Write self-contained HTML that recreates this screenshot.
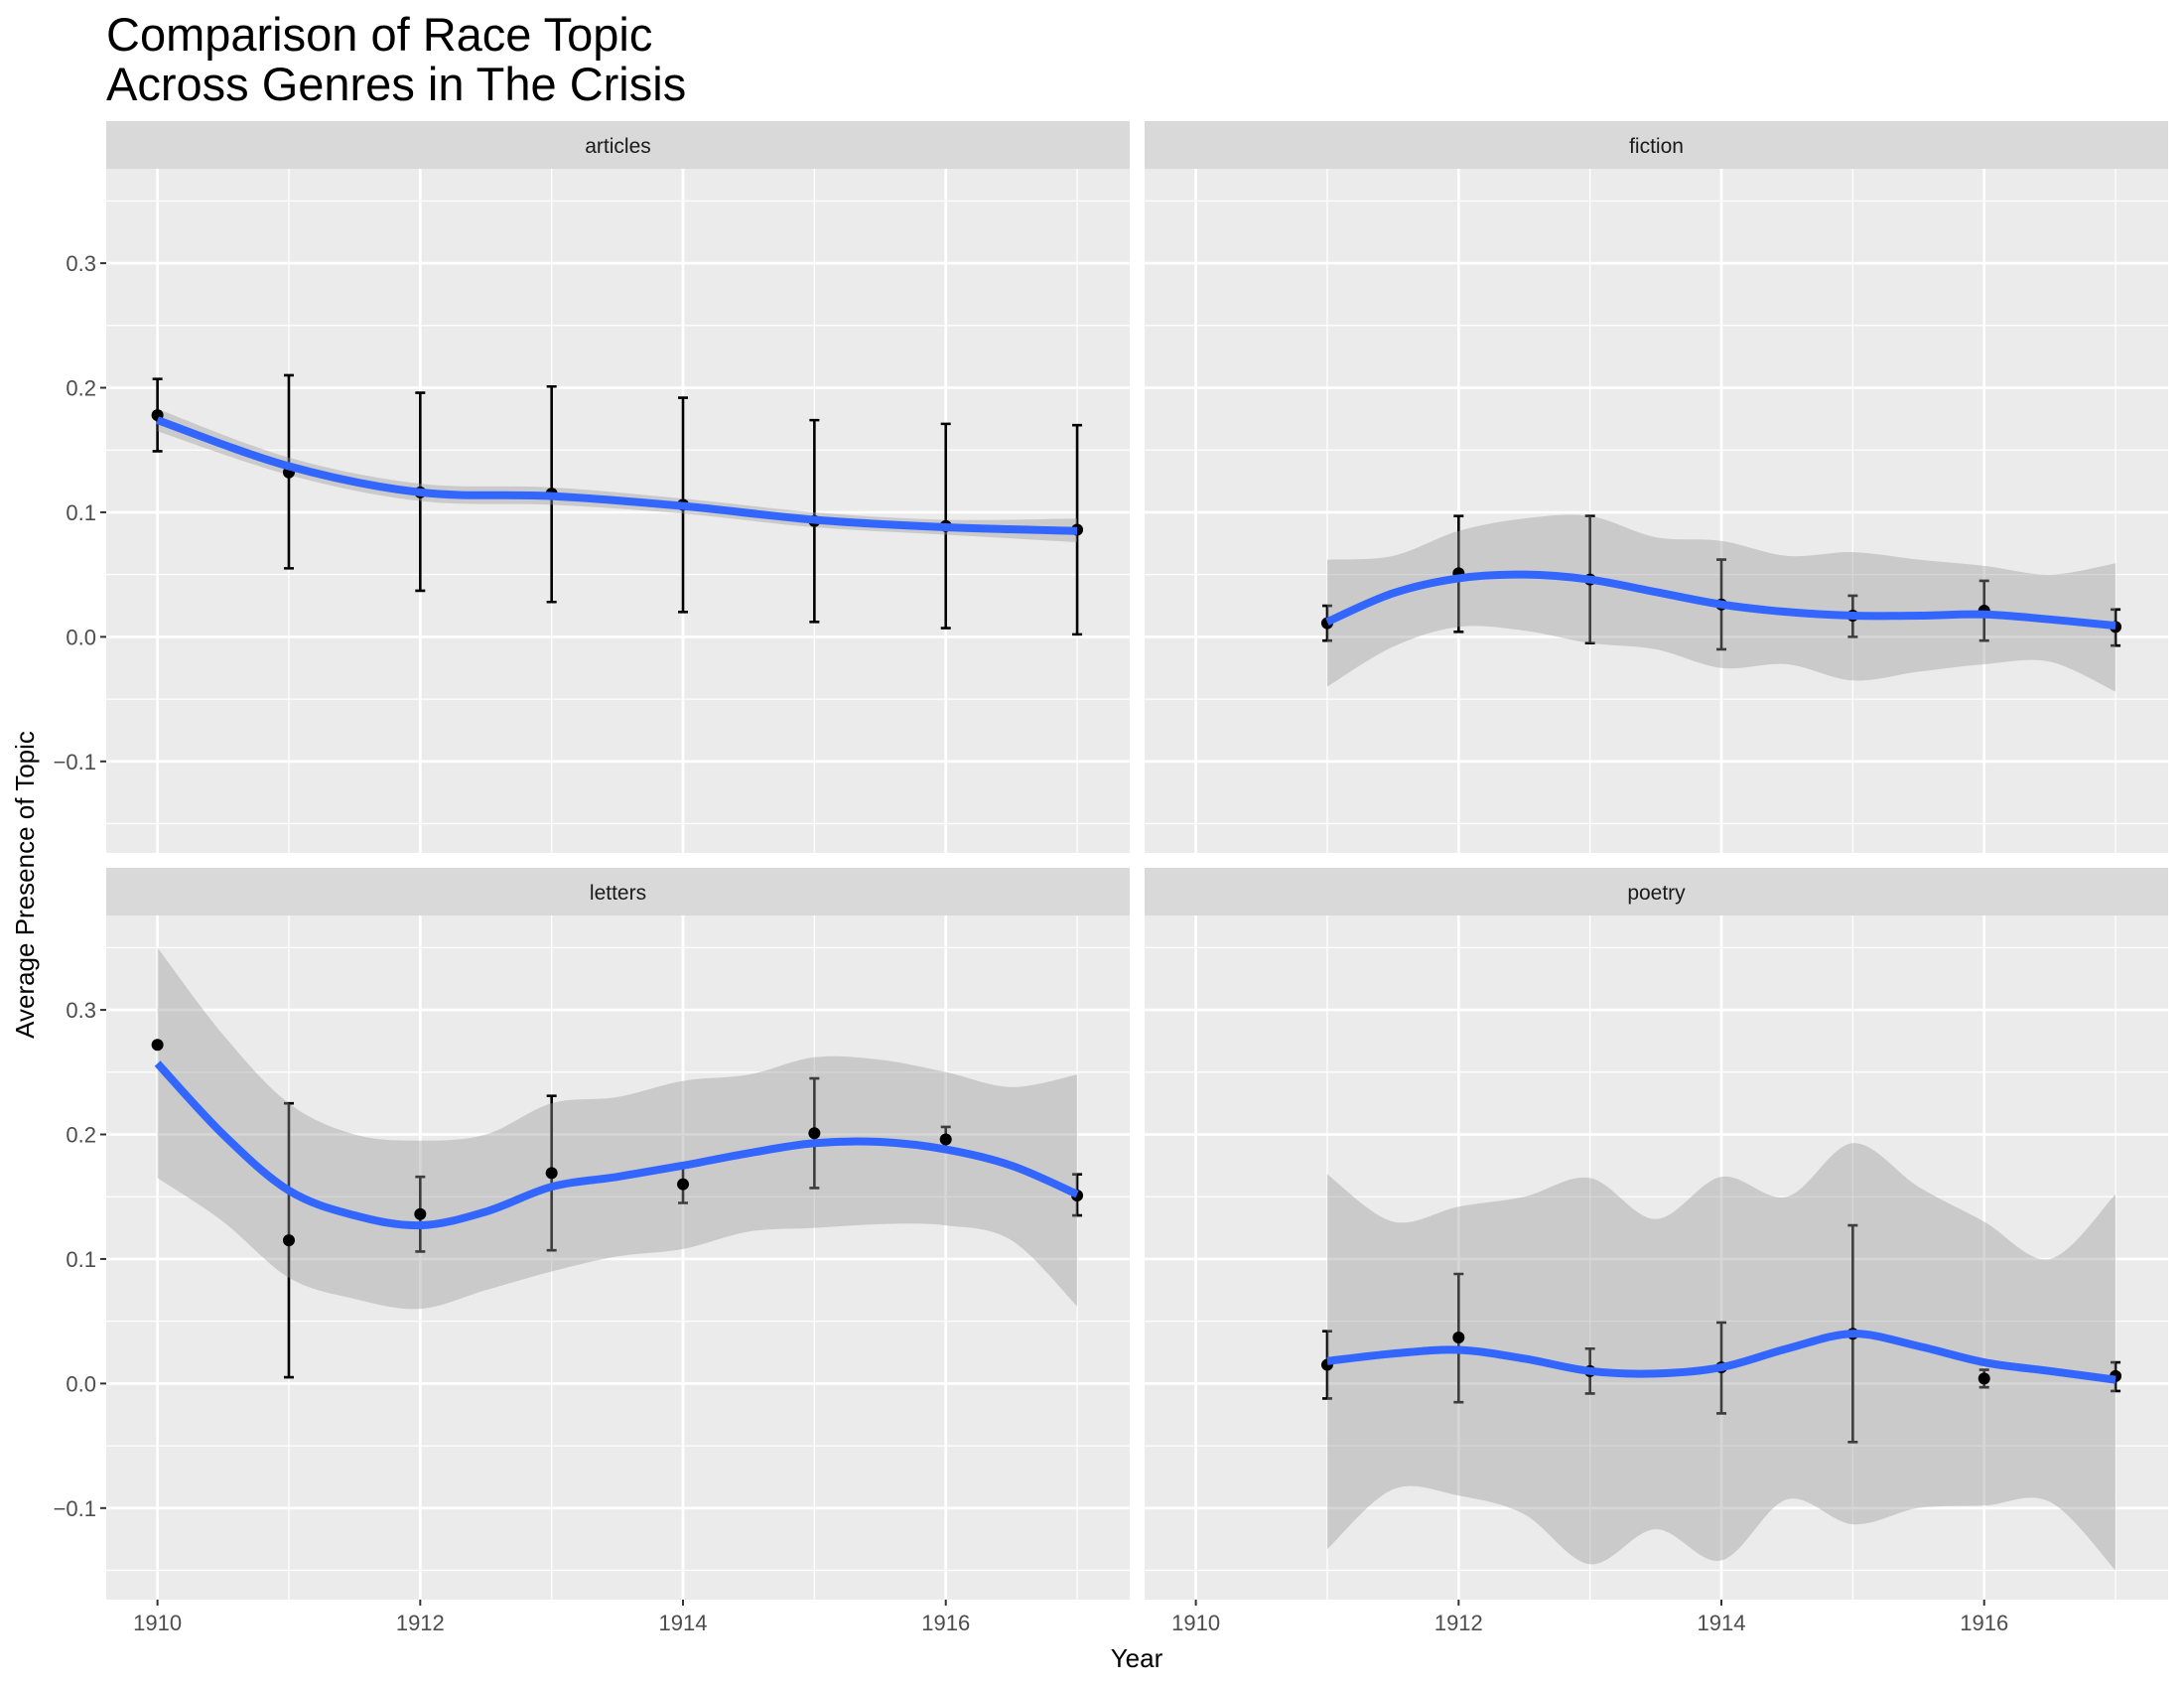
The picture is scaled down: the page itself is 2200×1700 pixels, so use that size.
<!DOCTYPE html>
<html><head><meta charset="utf-8"><style>
html,body{margin:0;padding:0;background:#fff;}
svg{display:block;font-family:"Liberation Sans",Arial,sans-serif;}
</style></head><body>
<svg id="chart" width="2200" height="1700" viewBox="0 0 2200 1700" xmlns="http://www.w3.org/2000/svg">
<text x="107" y="51" font-size="47" fill="#000">Comparison of Race Topic</text>
<text x="107" y="101" font-size="47" fill="#000">Across Genres in The Crisis</text>
<text x="1145" y="1679" font-size="26" text-anchor="middle" fill="#000">Year</text>
<text transform="translate(34,891) rotate(-90)" font-size="26" text-anchor="middle" fill="#000">Average Presence of Topic</text>
<g id="panels"></g>
</svg>
<script>
const genres = ["articles","fiction","letters","poetry"];
const yTicks = [-0.1,0.0,0.1,0.2,0.3];
const yTickLabels = ["\u22120.1","0.0","0.1","0.2","0.3"];
const xTicks = [1910,1912,1914,1916];
const xTickLabels = ["1910","1912","1914","1916"];

const articlesYears = [1910,1911,1912,1913,1914,1915,1916,1917];
const articlesMean = [0.178,0.132,0.116,0.115,0.106,0.093,0.089,0.086];
const articlesLo = [0.149,0.055,0.037,0.028,0.020,0.012,0.007,0.002];
const articlesHi = [0.207,0.210,0.196,0.201,0.192,0.174,0.171,0.170];
const articlesSmoothX = [1910,1911,1912,1913,1914,1915,1916,1917];
const articlesSmooth = [0.174,0.137,0.116,0.113,0.105,0.094,0.088,0.085];
const articlesBandHi = [0.183,0.144,0.123,0.120,0.111,0.100,0.094,0.095];
const articlesBandLo = [0.165,0.130,0.109,0.106,0.099,0.088,0.082,0.076];

const fictionYears = [1911,1912,1913,1914,1915,1916,1917];
const fictionMean = [0.011,0.051,0.046,0.026,0.017,0.021,0.008];
const fictionLo = [-0.003,0.004,-0.005,-0.010,0.000,-0.003,-0.007];
const fictionHi = [0.025,0.097,0.097,0.062,0.033,0.045,0.022];
const fictionSmoothX = [1911,1911.5,1912,1912.5,1913,1913.5,1914,1914.5,1915,1915.5,1916,1916.5,1917];
const fictionSmooth = [0.012,0.035,0.047,0.050,0.046,0.036,0.026,0.020,0.017,0.017,0.018,0.014,0.009];
const fictionBandHi = [0.062,0.065,0.085,0.095,0.097,0.080,0.077,0.065,0.068,0.062,0.057,0.050,0.059];
const fictionBandLo = [-0.040,-0.008,0.008,0.005,-0.005,-0.010,-0.025,-0.022,-0.035,-0.028,-0.022,-0.020,-0.044];

const lettersYears = [1910,1911,1912,1913,1914,1915,1916,1917];
const lettersMean = [0.272,0.115,0.136,0.169,0.160,0.201,0.196,0.151];
const lettersLo = [0.272,0.005,0.106,0.107,0.145,0.157,0.187,0.135];
const lettersHi = [0.272,0.225,0.166,0.231,0.175,0.245,0.206,0.168];
const lettersSmoothX = [1910,1910.5,1911,1911.5,1912,1912.5,1913,1913.5,1914,1914.5,1915,1915.5,1916,1916.5,1917];
const lettersSmooth = [0.257,0.200,0.155,0.135,0.127,0.138,0.158,0.166,0.175,0.185,0.193,0.194,0.188,0.175,0.152];
const lettersBandHi = [0.350,0.280,0.225,0.200,0.195,0.200,0.225,0.230,0.243,0.248,0.262,0.260,0.250,0.238,0.248];
const lettersBandLo = [0.165,0.130,0.085,0.068,0.060,0.075,0.090,0.102,0.108,0.122,0.125,0.128,0.127,0.115,0.062];

const poetryYears = [1911,1912,1913,1914,1915,1916,1917];
const poetryMean = [0.015,0.037,0.010,0.013,0.040,0.004,0.006];
const poetryLo = [-0.012,-0.015,-0.008,-0.024,-0.047,-0.003,-0.006];
const poetryHi = [0.042,0.088,0.028,0.049,0.127,0.011,0.017];
const poetrySmoothX = [1911,1911.5,1912,1912.5,1913,1913.5,1914,1914.5,1915,1915.5,1916,1916.5,1917];
const poetrySmooth = [0.018,0.024,0.027,0.020,0.010,0.008,0.013,0.028,0.040,0.030,0.017,0.010,0.003];
const poetryBandHi = [0.168,0.130,0.142,0.150,0.165,0.132,0.166,0.150,0.193,0.158,0.130,0.100,0.152];
const poetryBandLo = [-0.133,-0.085,-0.090,-0.105,-0.145,-0.117,-0.142,-0.093,-0.113,-0.100,-0.098,-0.095,-0.150];

const series = {
  articles:{years:articlesYears,mean:articlesMean,lo:articlesLo,hi:articlesHi,sx:articlesSmoothX,s:articlesSmooth,bh:articlesBandHi,bl:articlesBandLo},
  fiction:{years:fictionYears,mean:fictionMean,lo:fictionLo,hi:fictionHi,sx:fictionSmoothX,s:fictionSmooth,bh:fictionBandHi,bl:fictionBandLo},
  letters:{years:lettersYears,mean:lettersMean,lo:lettersLo,hi:lettersHi,sx:lettersSmoothX,s:lettersSmooth,bh:lettersBandHi,bl:lettersBandLo},
  poetry:{years:poetryYears,mean:poetryMean,lo:poetryLo,hi:poetryHi,sx:poetrySmoothX,s:poetrySmooth,bh:poetryBandHi,bl:poetryBandLo}
};

const NS="http://www.w3.org/2000/svg";
const root=document.getElementById('panels');
const PX=[[107,1138],[1153,2184]];
const PY=[[170,859],[922,1611]];
const YMIN=-0.1735, YMAX=0.3758, XMIN=1909.61, XMAX=1917.40;
function mk(tag,attrs,parent){const e=document.createElementNS(NS,tag);for(const k in attrs)e.setAttribute(k,attrs[k]);(parent||root).appendChild(e);return e;}
function smoothPath(pts){
  let d="M"+pts[0][0]+","+pts[0][1];
  for(let i=0;i<pts.length-1;i++){
    const p0=pts[Math.max(0,i-1)],p1=pts[i],p2=pts[i+1],p3=pts[Math.min(pts.length-1,i+2)];
    const c1=[p1[0]+(p2[0]-p0[0])/6,p1[1]+(p2[1]-p0[1])/6];
    const c2=[p2[0]-(p3[0]-p1[0])/6,p2[1]-(p3[1]-p1[1])/6];
    d+=" C"+c1[0]+","+c1[1]+" "+c2[0]+","+c2[1]+" "+p2[0]+","+p2[1];
  }
  return d;
}
genres.forEach((g,gi)=>{
  const col=gi%2,row=Math.floor(gi/2);
  const [x0,x1]=PX[col],[y0,y1]=PY[row];
  const sx=v=>x0+(v-XMIN)/(XMAX-XMIN)*(x1-x0);
  const sy=v=>y1-(v-YMIN)/(YMAX-YMIN)*(y1-y0);
  const grp=mk('g',{});
  
  
  const strip=mk('rect',{x:x0,y:y0-48,width:x1-x0,height:48,fill:'#d9d9d9'},grp);
  
  
  const st=mk('text',{x:(x0+x1)/2,y:y0-16,'font-size':21,'text-anchor':'middle',fill:'#1a1a1a'},grp);
  st.textContent=g;
  
  
  const bg=mk('rect',{x:x0,y:y0,width:x1-x0,height:y1-y0,fill:'#ebebeb'},grp);
  
  
  for(let i=0;i<yTicks.length-1;i++){const v=(yTicks[i]+yTicks[i+1])/2;mk('line',{x1:x0,x2:x1,y1:sy(v),y2:sy(v),stroke:'#fff','stroke-width':1.3},grp);}
  [yTicks[0]-0.05,yTicks[yTicks.length-1]+0.05].forEach(v=>{if(v>YMIN&&v<YMAX)mk('line',{x1:x0,x2:x1,y1:sy(v),y2:sy(v),stroke:'#fff','stroke-width':1.3},grp);});
  for(let i=0;i<xTicks.length;i++){const v=xTicks[i]+1;mk('line',{x1:sx(v),x2:sx(v),y1:y0,y2:y1,stroke:'#fff','stroke-width':1.3},grp);}
  yTicks.forEach(v=>mk('line',{x1:x0,x2:x1,y1:sy(v),y2:sy(v),stroke:'#fff','stroke-width':2.7},grp));
  xTicks.forEach(v=>mk('line',{x1:sx(v),x2:sx(v),y1:y0,y2:y1,stroke:'#fff','stroke-width':2.7},grp));
  if(col===0){yTicks.forEach((v,i)=>{
    mk('line',{x1:x0-6,x2:x0,y1:sy(v),y2:sy(v),stroke:'#333','stroke-width':2},grp);
    const t=mk('text',{x:x0-10,y:sy(v)+8,'font-size':22,'text-anchor':'end',fill:'#4d4d4d'},grp);
    t.textContent=yTickLabels[i];
    
    
  });}
  if(row===1){xTicks.forEach((v,i)=>{
    mk('line',{x1:sx(v),x2:sx(v),y1:y1,y2:y1+6,stroke:'#333','stroke-width':2},grp);
    const t=mk('text',{x:sx(v),y:y1+31,'font-size':22,'text-anchor':'middle',fill:'#4d4d4d'},grp);
    t.textContent=xTickLabels[i];
    
    
  });}
  const s=series[g];
  s.years.forEach((yr,i)=>{
    const X=sx(yr);
    const e=mk('path',{d:`M${X-5},${sy(s.hi[i])}H${X+5}M${X},${sy(s.hi[i])}V${sy(s.lo[i])}M${X-5},${sy(s.lo[i])}H${X+5}`,stroke:'#000','stroke-width':2.6,fill:'none'},grp);
    
    
  });
  const up=s.sx.map((x,i)=>[sx(x),sy(s.bh[i])]);
  const lo=s.sx.map((x,i)=>[sx(x),sy(s.bl[i])]).reverse();
  const lp=smoothPath(lo);
  const bd=smoothPath(up)+" L"+lo[0][0]+","+lo[0][1]+lp.slice(lp.indexOf(" C"))+" Z";
  const band=mk('path',{d:bd,fill:'#999','fill-opacity':0.4,stroke:'none'},grp);
  
  
  s.years.forEach((yr,i)=>{
    const c=mk('circle',{cx:sx(yr),cy:sy(s.mean[i]),r:6,fill:'#000'},grp);
    
    
  });
  const ln=mk('path',{d:smoothPath(s.sx.map((x,i)=>[sx(x),sy(s.s[i])])),stroke:'#3366FF','stroke-width':8,fill:'none'},grp);
  
  
});
</script>
</body></html>
